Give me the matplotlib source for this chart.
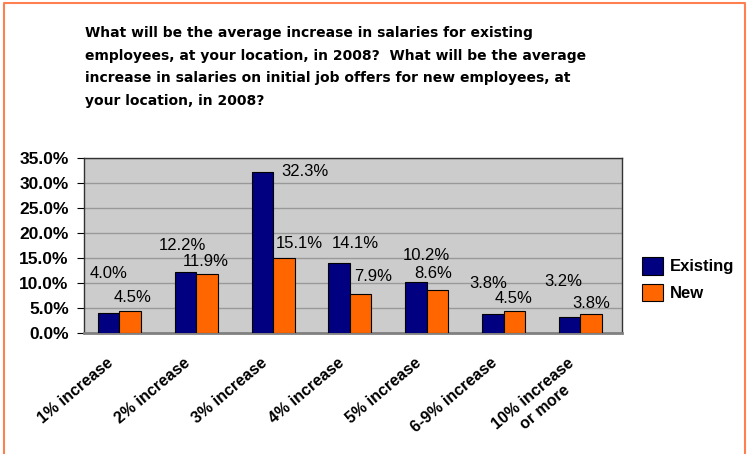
import numpy as np
import matplotlib.pyplot as plt
from matplotlib.transforms import ScaledTranslation

# survey answers, percent of respondents
categories = ["1% increase", "2% increase", "3% increase", "4% increase",
              "5% increase", "6-9% increase", "10% increase\nor more"]
existing = [4.0, 12.2, 32.3, 14.1, 10.2, 3.8, 3.2]
new = [4.5, 11.9, 15.1, 7.9, 8.6, 4.5, 3.8]

# label offsets (pixels) from the top centre of each bar
existing_off = [(0, 39), (-3, 27), (43, 0), (16, 19), (10, 27), (-5, 31), (-6, 35)]
new_off = [(2, 13), (-1, 12), (15, 14), (12, 17), (-4, 17), (-1, 12), (0, 11)]

NAVY = "#000080"
ORANGE = "#FF6600"
FONT = "Liberation Sans"

title = ("What will be the average increase in salaries for existing\n"
         "employees, at your location, in 2008?  What will be the average\n"
         "increase in salaries on initial job offers for new employees, at\n"
         "your location, in 2008?")

fig = plt.figure(figsize=(7.5, 4.54), dpi=100)
W, H = 750, 454

# orange frame round the whole card (top, left, right)
fig.add_artist(plt.Line2D([4 / W, 4 / W, 745 / W, 745 / W],
                          [0, 1 - 3 / H, 1 - 3 / H, 0],
                          transform=fig.transFigure, color="#FF7F50", lw=1.5))

fig.text(85 / W, 1 - 26 / H, title, ha="left", va="top",
         family="DejaVu Sans", weight="bold", fontsize=10, linespacing=1.78)

ax = fig.add_axes([84 / W, 1 - 333 / H, (622 - 84) / W, (333 - 158) / H])
ax.set_facecolor("#CCCCCC")

x = np.arange(len(categories)) - 0.04
bw = 0.28
b1 = ax.bar(x - bw / 2, existing, bw, color=NAVY, edgecolor="black", lw=0.8,
            label="Existing", zorder=3)
b2 = ax.bar(x + bw / 2, new, bw, color=ORANGE, edgecolor="black", lw=0.8,
            label="New", zorder=3)

for bars, vals, offs in ((b1, existing, existing_off), (b2, new, new_off)):
    for bar, v, (dx, dy) in zip(bars, vals, offs):
        ax.annotate(f"{v:.1f}%", (bar.get_x() + bar.get_width() / 2, v),
                    xytext=(dx * 0.72, dy * 0.72), textcoords="offset points",
                    ha="center", va="center", fontsize=12,
                    family=FONT, color="black", zorder=4)

ax.set_xlim(-0.5, len(categories) - 0.5)
ax.set_ylim(0, 35)
ax.set_yticks(np.arange(0, 36, 5))
ax.set_yticklabels([f"{t:.1f}%" for t in np.arange(0, 36, 5)],
                   family=FONT, weight="bold", fontsize=12.5)
ax.yaxis.grid(True, color="#999999", lw=1, zorder=0)
ax.tick_params(axis="y", length=5, width=0.8, pad=6)

ax.set_xticks(np.arange(len(categories)))
ax.set_xticklabels(categories, rotation=40, ha="right", rotation_mode="anchor",
                   family=FONT, weight="bold", fontsize=11.5,
                   multialignment="center")
ax.tick_params(axis="x", length=0, pad=16)
shift = ScaledTranslation(-16 / 100, 0, fig.dpi_scale_trans)
for lab in ax.get_xticklabels():
    lab.set_transform(lab.get_transform() + shift)

for side in ("left", "top", "right"):
    ax.spines[side].set_color("#333333")
    ax.spines[side].set_linewidth(1)
ax.spines["bottom"].set_color("#808080")
ax.spines["bottom"].set_linewidth(2)

# legend drawn as two swatches beside the plot
fig.legend(handles=[b1, b2], labels=["Existing", "New"],
           loc="upper left", bbox_to_anchor=(627 / W, 1 - 242 / H),
           frameon=False, prop={"family": FONT, "weight": "bold", "size": 12},
           handlelength=1.25, handleheight=1.25, handletextpad=0.45,
           labelspacing=0.55)

fig.savefig("out.png", dpi=100)
